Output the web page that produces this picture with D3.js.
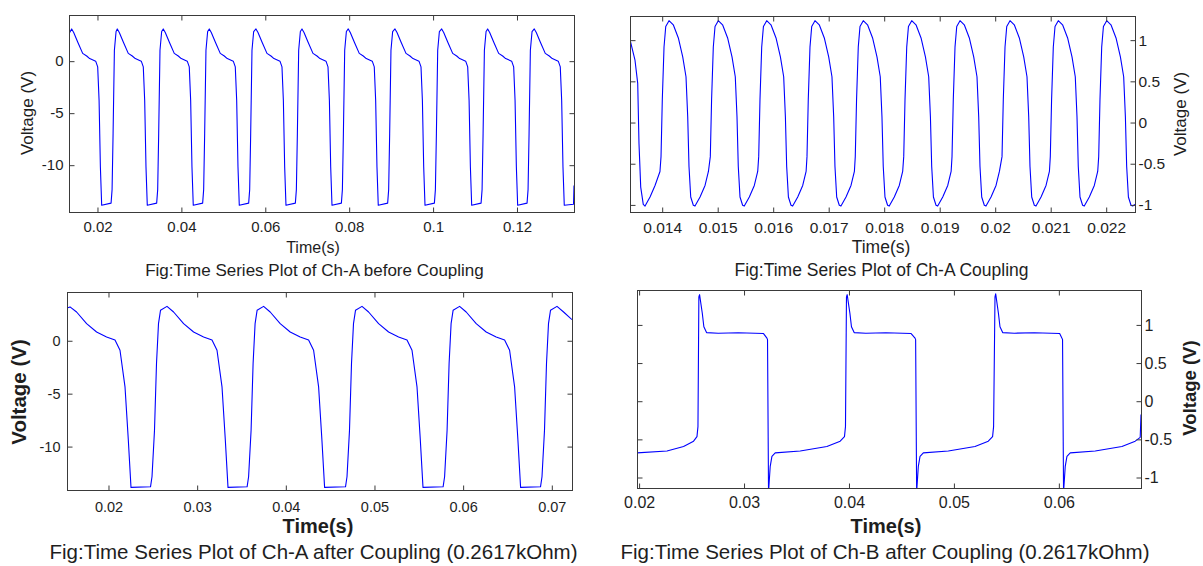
<!DOCTYPE html>
<html><head><meta charset="utf-8">
<script src="https://cdn.jsdelivr.net/npm/d3@7"></script>
<style>
html,body{margin:0;padding:0;background:#fff;}
svg text{font-family:"Liberation Sans", Arial, Helvetica, sans-serif; fill:#1e1e1e;}
</style></head><body>
<svg id="chart" width="1203" height="566"></svg>
<script>
// ---------- tick labels ----------
const ticksBeforeX = [0.02, 0.04, 0.06, 0.08, 0.1, 0.12];
const ticksBeforeY = [-10, -5, 0];
const ticksCouplingX = [0.014, 0.015, 0.016, 0.017, 0.018, 0.019, 0.02, 0.021, 0.022];
const ticksCouplingY = [-1, -0.5, 0, 0.5, 1];
const ticksAfterAX = [0.02, 0.03, 0.04, 0.05, 0.06, 0.07];
const ticksAfterAY = [-10, -5, 0];
const ticksAfterBX = [0.02, 0.03, 0.04, 0.05, 0.06];
const ticksAfterBY = [-1, -0.5, 0, 0.5, 1];

// ---------- titles ----------
const captions = [
  "Fig:Time Series Plot of Ch-A before Coupling",
  "Fig:Time Series Plot of Ch-A Coupling",
  "Fig:Time Series Plot of Ch-A after Coupling (0.2617kOhm)",
  "Fig:Time Series Plot of Ch-B after Coupling (0.2617kOhm)"
];
const xTitle = "Time(s)";
const yTitle = "Voltage (V)";

// ---------- series: [time (s), voltage (V)] ----------
const chABefore = [
  [0.01333,2.6],
  [0.01397,3.05],[0.01445,2.7],[0.01540,1.8],[0.01659,0.7],[0.01755,0.45],[0.01826,0.2],[0.01969,-0.05],[0.02017,-0.6],[0.02050,-3.8],[0.02081,-10.2],[0.02112,-13.9],[0.02336,-13.7],[0.02360,-12.4],[0.02384,-7.0],[0.02415,1.0],[0.02455,2.8],
  [0.02484,3.05],[0.02532,2.7],[0.02627,1.8],[0.02746,0.7],[0.02842,0.45],[0.02913,0.2],[0.03056,-0.05],[0.03104,-0.6],[0.03137,-3.8],[0.03168,-10.2],[0.03199,-13.9],[0.03423,-13.7],[0.03447,-12.4],[0.03471,-7.0],[0.03502,1.0],[0.03542,2.8],
  [0.03580,3.05],[0.03628,2.7],[0.03723,1.8],[0.03842,0.7],[0.03938,0.45],[0.04009,0.2],[0.04152,-0.05],[0.04200,-0.6],[0.04233,-3.8],[0.04264,-10.2],[0.04295,-13.9],[0.04519,-13.7],[0.04543,-12.4],[0.04567,-7.0],[0.04598,1.0],[0.04638,2.8],
  [0.04677,3.05],[0.04725,2.7],[0.04820,1.8],[0.04939,0.7],[0.05035,0.45],[0.05106,0.2],[0.05249,-0.05],[0.05297,-0.6],[0.05330,-3.8],[0.05361,-10.2],[0.05392,-13.9],[0.05616,-13.7],[0.05640,-12.4],[0.05664,-7.0],[0.05695,1.0],[0.05735,2.8],
  [0.05790,3.05],[0.05838,2.7],[0.05933,1.8],[0.06052,0.7],[0.06148,0.45],[0.06219,0.2],[0.06362,-0.05],[0.06410,-0.6],[0.06443,-3.8],[0.06474,-10.2],[0.06505,-13.9],[0.06729,-13.7],[0.06753,-12.4],[0.06777,-7.0],[0.06808,1.0],[0.06848,2.8],
  [0.06887,3.05],[0.06935,2.7],[0.07030,1.8],[0.07149,0.7],[0.07245,0.45],[0.07316,0.2],[0.07459,-0.05],[0.07507,-0.6],[0.07540,-3.8],[0.07571,-10.2],[0.07602,-13.9],[0.07826,-13.7],[0.07850,-12.4],[0.07874,-7.0],[0.07905,1.0],[0.07945,2.8],
  [0.07990,3.05],[0.08038,2.7],[0.08133,1.8],[0.08252,0.7],[0.08348,0.45],[0.08419,0.2],[0.08562,-0.05],[0.08610,-0.6],[0.08643,-3.8],[0.08674,-10.2],[0.08705,-13.9],[0.08929,-13.7],[0.08953,-12.4],[0.08977,-7.0],[0.09008,1.0],[0.09048,2.8],
  [0.09104,3.05],[0.09152,2.7],[0.09247,1.8],[0.09366,0.7],[0.09462,0.45],[0.09533,0.2],[0.09676,-0.05],[0.09724,-0.6],[0.09757,-3.8],[0.09788,-10.2],[0.09819,-13.9],[0.10043,-13.7],[0.10067,-12.4],[0.10091,-7.0],[0.10122,1.0],[0.10162,2.8],
  [0.10217,3.05],[0.10265,2.7],[0.10360,1.8],[0.10479,0.7],[0.10575,0.45],[0.10646,0.2],[0.10789,-0.05],[0.10837,-0.6],[0.10870,-3.8],[0.10901,-10.2],[0.10932,-13.9],[0.11156,-13.7],[0.11180,-12.4],[0.11204,-7.0],[0.11235,1.0],[0.11275,2.8],
  [0.11313,3.05],[0.11361,2.7],[0.11456,1.8],[0.11575,0.7],[0.11671,0.45],[0.11742,0.2],[0.11885,-0.05],[0.11933,-0.6],[0.11966,-3.8],[0.11997,-10.2],[0.12028,-13.9],[0.12252,-13.7],[0.12276,-12.4],[0.12300,-7.0],[0.12331,1.0],[0.12371,2.8],
  [0.12424,3.05],[0.12472,2.7],[0.12567,1.8],[0.12686,0.7],[0.12782,0.45],[0.12853,0.2],[0.12996,-0.05],[0.13044,-0.6],[0.13077,-3.8],[0.13108,-10.2],[0.13139,-13.9],[0.13360,-13.8],[0.13371,-12.0]
];

const chACoupling = [
  [0.013429,1.0],[0.013519,0.75],[0.013568,0.47],[0.013591,-0.26],[0.013622,-0.79],[0.013668,-1.0],[0.013700,-1.02],[0.013790,-0.91],[0.013880,-0.77],[0.013969,-0.60],
  [0.013988,-0.42],[0.014011,0.27],[0.014042,0.91],[0.014073,1.16],[0.014132,1.23],[0.014209,1.18],[0.014300,1.02],[0.014379,0.79],[0.014438,0.55],[0.014469,0.06],[0.014492,-0.54],[0.014523,-0.91],[0.014570,-1.01],[0.014600,-1.02],[0.014691,-0.91],[0.014781,-0.77],[0.014842,-0.60],
  [0.014876,-0.42],[0.014899,0.27],[0.014930,0.91],[0.014961,1.16],[0.015020,1.23],[0.015097,1.18],[0.015188,1.02],[0.015267,0.79],[0.015326,0.55],[0.015357,0.06],[0.015380,-0.54],[0.015411,-0.91],[0.015458,-1.01],[0.015488,-1.02],[0.015579,-0.91],[0.015669,-0.77],[0.015730,-0.60],
  [0.015748,-0.42],[0.015771,0.27],[0.015802,0.91],[0.015833,1.16],[0.015892,1.23],[0.015969,1.18],[0.016060,1.02],[0.016139,0.79],[0.016198,0.55],[0.016229,0.06],[0.016252,-0.54],[0.016283,-0.91],[0.016330,-1.01],[0.016360,-1.02],[0.016451,-0.91],[0.016541,-0.77],[0.016602,-0.60],
  [0.016618,-0.42],[0.016641,0.27],[0.016672,0.91],[0.016703,1.16],[0.016762,1.23],[0.016839,1.18],[0.016930,1.02],[0.017009,0.79],[0.017068,0.55],[0.017099,0.06],[0.017122,-0.54],[0.017153,-0.91],[0.017200,-1.01],[0.017230,-1.02],[0.017321,-0.91],[0.017411,-0.77],[0.017472,-0.60],
  [0.017488,-0.42],[0.017511,0.27],[0.017542,0.91],[0.017573,1.16],[0.017632,1.23],[0.017709,1.18],[0.017800,1.02],[0.017879,0.79],[0.017938,0.55],[0.017969,0.06],[0.017992,-0.54],[0.018023,-0.91],[0.018070,-1.01],[0.018100,-1.02],[0.018191,-0.91],[0.018281,-0.77],[0.018342,-0.60],
  [0.018361,-0.42],[0.018384,0.27],[0.018415,0.91],[0.018446,1.16],[0.018505,1.23],[0.018582,1.18],[0.018673,1.02],[0.018752,0.79],[0.018811,0.55],[0.018842,0.06],[0.018865,-0.54],[0.018896,-0.91],[0.018943,-1.01],[0.018973,-1.02],[0.019064,-0.91],[0.019154,-0.77],[0.019215,-0.60],
  [0.019231,-0.42],[0.019254,0.27],[0.019285,0.91],[0.019316,1.16],[0.019375,1.23],[0.019452,1.18],[0.019543,1.02],[0.019622,0.79],[0.019681,0.55],[0.019712,0.06],[0.019735,-0.54],[0.019766,-0.91],[0.019813,-1.01],[0.019843,-1.02],[0.019934,-0.91],[0.020024,-0.77],[0.020085,-0.60],
  [0.020132,-0.42],[0.020155,0.27],[0.020186,0.91],[0.020217,1.16],[0.020276,1.23],[0.020353,1.18],[0.020444,1.02],[0.020523,0.79],[0.020582,0.55],[0.020613,0.06],[0.020636,-0.54],[0.020667,-0.91],[0.020714,-1.01],[0.020744,-1.02],[0.020835,-0.91],[0.020925,-0.77],[0.020986,-0.60],
  [0.021002,-0.42],[0.021025,0.27],[0.021056,0.91],[0.021087,1.16],[0.021146,1.23],[0.021223,1.18],[0.021314,1.02],[0.021393,0.79],[0.021452,0.55],[0.021483,0.06],[0.021506,-0.54],[0.021537,-0.91],[0.021584,-1.01],[0.021614,-1.02],[0.021705,-0.91],[0.021795,-0.77],[0.021856,-0.60],
  [0.021874,-0.42],[0.021897,0.27],[0.021928,0.91],[0.021959,1.16],[0.022018,1.23],[0.022095,1.18],[0.022186,1.02],[0.022265,0.79],[0.022324,0.55],[0.022355,0.06],[0.022378,-0.54],[0.022409,-0.91],[0.022456,-1.01],[0.022486,-1.02],[0.022528,-1.00]
];

const chAAfter = [
  [0.015376,3.05],[0.015714,3.15],[0.016458,2.67],[0.017586,1.57],[0.018714,0.78],[0.019842,0.31],[0.020790,0.02],[0.021354,-0.94],[0.021918,-4.4],[0.022290,-9.4],[0.022594,-13.9],
  [0.024794,-13.85],[0.024963,-12.9],[0.025245,-8.5],[0.025471,-2.2],[0.025696,1.57],[0.025922,2.83],[0.026655,3.2],
  [0.027399,2.67],[0.028527,1.57],[0.029655,0.78],[0.030783,0.31],[0.031731,0.02],[0.032295,-0.94],[0.032859,-4.4],[0.033231,-9.4],[0.033535,-13.9],
  [0.035689,-13.85],[0.035858,-12.9],[0.036140,-8.5],[0.036366,-2.2],[0.036591,1.57],[0.036817,2.83],[0.037550,3.2],
  [0.038294,2.67],[0.039422,1.57],[0.040550,0.78],[0.041678,0.31],[0.042626,0.02],[0.043190,-0.94],[0.043754,-4.4],[0.044126,-9.4],[0.044430,-13.9],
  [0.046788,-13.85],[0.046957,-12.9],[0.047239,-8.5],[0.047465,-2.2],[0.047690,1.57],[0.047916,2.83],[0.048649,3.2],
  [0.049393,2.67],[0.050521,1.57],[0.051649,0.78],[0.052777,0.31],[0.053725,0.02],[0.054289,-0.94],[0.054853,-4.4],[0.055225,-9.4],[0.055529,-13.9],
  [0.057796,-13.85],[0.057965,-12.9],[0.058247,-8.5],[0.058473,-2.2],[0.058698,1.57],[0.058924,2.83],[0.059657,3.2],
  [0.060401,2.67],[0.061529,1.57],[0.062657,0.78],[0.063785,0.31],[0.064733,0.02],[0.065297,-0.94],[0.065861,-4.4],[0.066233,-9.4],[0.066537,-13.9],
  [0.068782,-13.85],[0.068951,-12.9],[0.069233,-8.5],[0.069459,-2.2],[0.069684,1.57],[0.069910,2.83],[0.070643,3.2],
  [0.071387,2.67],[0.072335,1.95]
];

const chBAfter = [
  [0.019848,-0.684],[0.022705,-0.66],[0.024286,-0.60],[0.025238,-0.53],[0.025562,-0.47],[0.025657,-0.34],
  [0.025743,1.36],[0.025810,1.39],[0.026067,1.15],[0.026219,0.97],[0.026476,0.893],[0.027591,0.885],[0.029496,0.89],[0.031905,0.88],[0.032229,0.82],[0.032286,0.80],
  [0.032381,-1.2],[0.032543,-0.86],[0.032705,-0.73],[0.033019,-0.684],[0.035400,-0.66],[0.037943,-0.60],[0.039210,-0.53],[0.039619,-0.47],[0.039715,-0.34],
  [0.039809,1.36],[0.039876,1.39],[0.040133,1.15],[0.040285,0.97],[0.040542,0.893],[0.041657,0.885],[0.043562,0.89],[0.045971,0.88],[0.046343,0.82],[0.046400,0.80],
  [0.046495,-1.2],[0.046657,-0.86],[0.046819,-0.73],[0.047133,-0.684],[0.049514,-0.66],[0.052057,-0.60],[0.053324,-0.53],[0.053733,-0.47],[0.053829,-0.34],
  [0.053962,1.36],[0.054029,1.40],[0.054286,1.15],[0.054438,0.97],[0.054695,0.893],[0.055810,0.885],[0.057715,0.89],[0.060124,0.88],[0.060343,0.82],[0.060400,0.80],
  [0.060495,-1.2],[0.060657,-0.86],[0.060819,-0.73],[0.061133,-0.684],[0.063514,-0.66],[0.066057,-0.60],[0.067324,-0.53],[0.067800,-0.48],[0.067876,-0.18]
];

// ---------- layout / styles ----------
const panels = [
  {id:"p1", data:chABefore, xDomain:[0.01333,0.13371], yDomain:[-14.55,4.39], xTicks:ticksBeforeX, yTicks:ticksBeforeY,
   box:{l:69,r:574,t:15,b:212}, ySide:"left", tickFont:15, xTickPad:9.3, yTickPad:6,
   xTitle:{x:313,y:253,size:16,bold:false}, yTitle:{x:27,y:113,size:17,bold:false},
   cap:{x:314.5,y:276,size:17}, caption:captions[0]},
  {id:"p2", data:chACoupling, xDomain:[0.013429,0.022528], yDomain:[-1.092,1.287], xTicks:ticksCouplingX, yTicks:ticksCouplingY,
   box:{l:630,r:1135,t:16,b:212}, ySide:"right", tickFont:15.5, xTickPad:9, yTickPad:3,
   xTitle:{x:881,y:253,size:17.5,bold:false}, yTitle:{x:1180,y:114,size:17,bold:false},
   cap:{x:881.5,y:276,size:17.5}, caption:captions[1]},
  {id:"p3", data:chAAfter, xDomain:[0.015376,0.072335], yDomain:[-14.15,4.56], xTicks:ticksAfterAX, yTicks:ticksAfterAY,
   box:{l:67,r:572,t:292,b:490}, ySide:"left", tickFont:14.5, xTickPad:11.5, yTickPad:7,
   xTitle:{x:318,y:533,size:20,bold:true}, yTitle:{x:18,y:392,size:20.5,bold:true},
   cap:{x:313.5,y:559,size:20.5}, caption:captions[2]},
  {id:"p4", data:chBAfter, xDomain:[0.019848,0.067876], yDomain:[-1.144,1.451], xTicks:ticksAfterBX, yTicks:ticksAfterBY,
   box:{l:637,r:1141,t:290,b:488}, ySide:"right", tickFont:16, xTickPad:8.5, yTickPad:3,
   xTitle:{x:886,y:533,size:20,bold:true}, yTitle:{x:1189,y:388,size:18.5,bold:true},
   cap:{x:885,y:559,size:20.5}, caption:captions[3]}
];

const svg = d3.select("#chart");
const fmt = d => String(d).replace("\u2212", "-");
const TICK = 5;

panels.forEach(p => {
  const b = p.box;
  const x = d3.scaleLinear().domain(p.xDomain).range([b.l, b.r]);
  const y = d3.scaleLinear().domain(p.yDomain).range([b.b, b.t]);
  const g = svg.append("g");

  g.append("clipPath").attr("id", "clip-" + p.id)
    .append("rect").attr("x", b.l).attr("y", b.t).attr("width", b.r - b.l).attr("height", b.b - b.t);

  g.append("path").datum(p.data)
    .attr("clip-path", "url(#clip-" + p.id + ")")
    .attr("fill", "none").attr("stroke", "#0000ff").attr("stroke-width", 1.1)
    .attr("stroke-linejoin", "round")
    .attr("d", d3.line().x(d => x(d[0])).y(d => y(d[1])));

  const styleAxis = (sel, withText) => {
    sel.select(".domain").remove();
    sel.selectAll(".tick line").attr("stroke", "#3a3a3a").attr("stroke-width", 1);
    sel.selectAll(".tick text").attr("font-size", p.tickFont).attr("fill", "#1e1e1e")
      .style("font-family", "'Liberation Sans', Arial, sans-serif");
    if (!withText) sel.selectAll(".tick text").remove();
  };

  const bottom = g.append("g").attr("transform", `translate(0.5,${b.b + 0.5})`)
    .call(d3.axisBottom(x).tickValues(p.xTicks).tickSizeInner(-TICK).tickSizeOuter(0).tickPadding(p.xTickPad).tickFormat(fmt));
  styleAxis(bottom, true);
  const top = g.append("g").attr("transform", `translate(0.5,${b.t + 0.5})`)
    .call(d3.axisTop(x).tickValues(p.xTicks).tickSizeInner(-TICK).tickSizeOuter(0).tickFormat(""));
  styleAxis(top, false);
  const left = g.append("g").attr("transform", `translate(${b.l + 0.5},0.5)`)
    .call(d3.axisLeft(y).tickValues(p.yTicks).tickSizeInner(-TICK).tickSizeOuter(0).tickPadding(p.yTickPad).tickFormat(fmt));
  styleAxis(left, p.ySide === "left");
  const right = g.append("g").attr("transform", `translate(${b.r + 0.5},0.5)`)
    .call(d3.axisRight(y).tickValues(p.yTicks).tickSizeInner(-TICK).tickSizeOuter(0).tickPadding(p.yTickPad).tickFormat(fmt));
  styleAxis(right, p.ySide === "right");

  g.append("rect").attr("x", b.l + 0.5).attr("y", b.t + 0.5)
    .attr("width", b.r - b.l).attr("height", b.b - b.t)
    .attr("fill", "none").attr("stroke", "#3a3a3a").attr("stroke-width", 1)
    .attr("shape-rendering", "crispEdges");

  g.append("text").attr("x", p.xTitle.x).attr("y", p.xTitle.y)
    .attr("text-anchor", "middle").attr("font-size", p.xTitle.size)
    .attr("font-weight", p.xTitle.bold ? "bold" : "normal").text(xTitle);

  g.append("text").attr("transform", `translate(${p.yTitle.x},${p.yTitle.y}) rotate(-90)`)
    .attr("text-anchor", "middle").attr("dominant-baseline", "central")
    .attr("font-size", p.yTitle.size)
    .attr("font-weight", p.yTitle.bold ? "bold" : "normal").text(yTitle);

  g.append("text").attr("x", p.cap.x).attr("y", p.cap.y)
    .attr("text-anchor", "middle").attr("font-size", p.cap.size).text(p.caption);
});
</script>
</body></html>
